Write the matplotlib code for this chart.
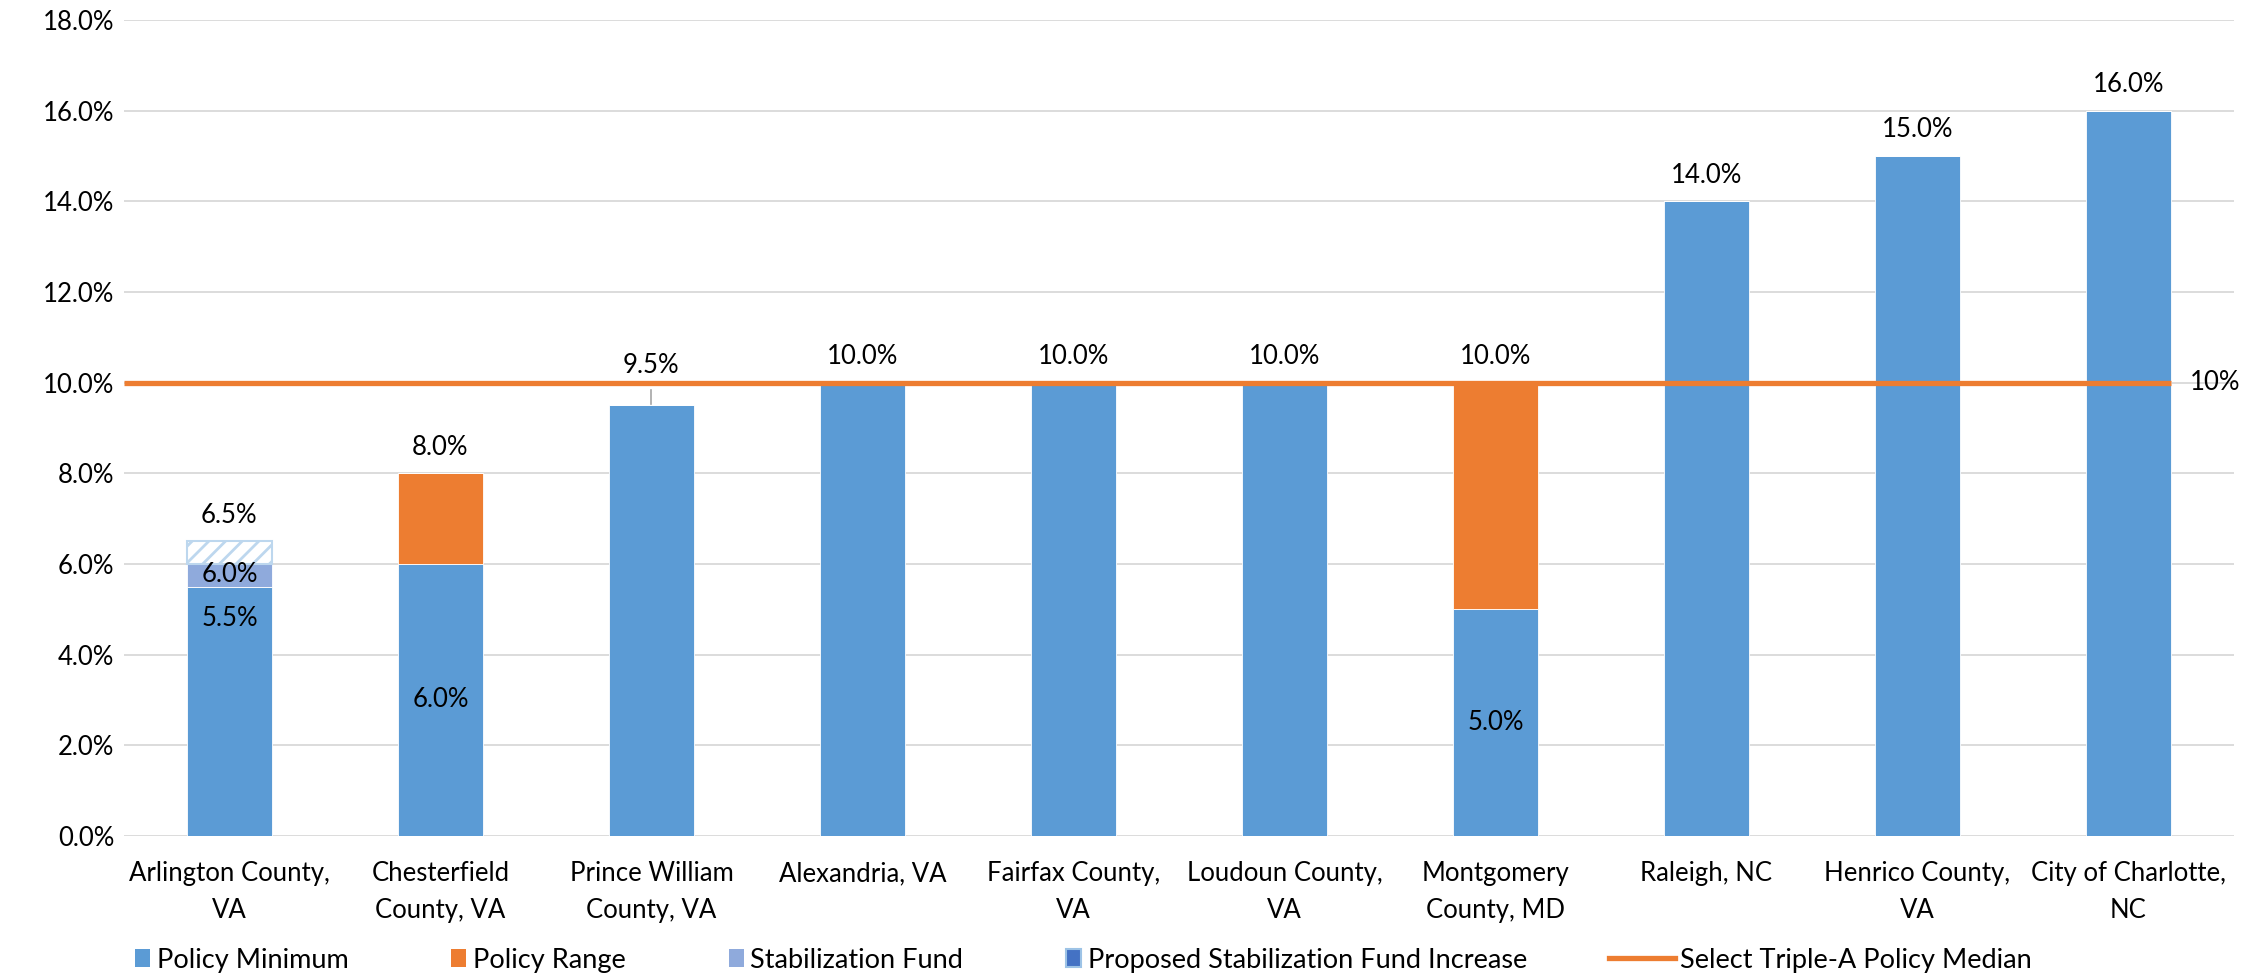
import matplotlib
matplotlib.use("Agg")
import matplotlib.pyplot as plt
from matplotlib.patches import Patch
from matplotlib.lines import Line2D
from matplotlib.ticker import FuncFormatter
import numpy as np

plt.rcParams['font.family'] = ['Lato', 'DejaVu Sans']
plt.rcParams['hatch.linewidth'] = 2.0

# --- data ---
categories = ["Arlington County,\nVA", "Chesterfield\nCounty, VA", "Prince William\nCounty, VA",
              "Alexandria, VA", "Fairfax County,\nVA", "Loudoun County,\nVA",
              "Montgomery\nCounty, MD", "Raleigh, NC", "Henrico County,\nVA",
              "City of Charlotte,\nNC"]
policy_min = [5.5, 6.0, 9.5, 10.0, 10.0, 10.0, 5.0, 14.0, 15.0, 16.0]
policy_range = [0.0, 2.0, 0.0, 0.0, 0.0, 0.0, 5.0, 0.0, 0.0, 0.0]
stab_fund = [0.5, 0, 0, 0, 0, 0, 0, 0, 0, 0]
proposed_increase = [0.5, 0, 0, 0, 0, 0, 0, 0, 0, 0]
median_value = 10.0

BLUE = '#5B9BD5'
ORANGE = '#ED7D31'
STAB = '#8FAADC'
PROPOSED = '#4472C4'
HATCH = '#BDD7EE'
FS = 18.5
LEG_FS = 19.5

x = np.arange(len(categories))
w = 0.40
pm = np.array(policy_min)
pr = np.array(policy_range)
sf = np.array(stab_fund)
pi = np.array(proposed_increase)

fig = plt.figure(figsize=(22.57, 9.75), dpi=100)
ax = fig.add_axes([0.0549, 0.1426, 0.9349, 0.8369])

ax.bar(x, pm, w, color=BLUE, edgecolor='white', linewidth=0.6, zorder=2)
ax.bar(x, pr, w, bottom=pm, color=ORANGE, edgecolor='white', linewidth=0.6, zorder=2)
ax.bar(x, sf, w, bottom=pm + pr, color=STAB, edgecolor='white', linewidth=0.6, zorder=2)
mask = pi > 0
ax.bar(x[mask], pi[mask], w, bottom=(pm + pr + sf)[mask], facecolor='white',
       edgecolor=HATCH, hatch='//', linewidth=1.5, zorder=2)

# median reference line
ax.plot([-0.5, x[-1] + w / 2], [median_value, median_value], color=ORANGE,
        linewidth=3.8, zorder=4, solid_capstyle='butt')
ax.text(x[-1] + w / 2 + 0.09, median_value, f"{median_value:.0f}%", fontsize=FS,
        va='center', ha='left')

# labels above each bar
totals = pm + pr + sf + pi
for i, t in enumerate(totals):
    if i == 2:
        continue
    ax.annotate(f"{t:.1f}%", (x[i], t), xytext=(0, 26), textcoords='offset pixels',
                ha='center', va='center', fontsize=FS, zorder=3)

# Prince William label with leader line
ax.annotate(f"{pm[2]:.1f}%", (x[2], pm[2]), xytext=(0, 40), textcoords='offset pixels',
            ha='center', va='center', fontsize=FS, zorder=3)
ax.plot([x[2], x[2]], [pm[2] + 0.02, pm[2] + 0.33], color='#A6A6A6', lw=1.2, zorder=3)

# labels inside bars
ax.annotate(f"{pm[0]:.1f}%", (x[0], pm[0]), xytext=(0, -32), textcoords='offset pixels',
            ha='center', va='center', fontsize=FS, zorder=3)
ax.annotate(f"{pm[0] + sf[0]:.1f}%", (x[0], pm[0] + sf[0]), xytext=(0, -11),
            textcoords='offset pixels', ha='center', va='center', fontsize=FS, zorder=3)
for i in (1, 6):
    ax.text(x[i], pm[i] / 2, f"{pm[i]:.1f}%", ha='center', va='center', fontsize=FS, zorder=3)

ax.set_xlim(-0.5, len(categories) - 0.5)
ax.set_ylim(0, 18)
ax.set_yticks(np.arange(0, 18.1, 2))
ax.yaxis.set_major_formatter(FuncFormatter(lambda v, p: f"{v:.1f}%"))
ax.set_xticks(x)
ax.set_xticklabels(categories, linespacing=1.6)
ax.tick_params(axis='both', length=0, labelsize=FS)
ax.tick_params(axis='x', pad=18)
ax.tick_params(axis='y', pad=7)
ax.grid(axis='y', color='#D9D9D9', linewidth=1.3, zorder=0)
ax.set_axisbelow(True)
for s in ax.spines.values():
    s.set_visible(False)

patch_handles = [
    Patch(facecolor=BLUE, label='Policy Minimum'),
    Patch(facecolor=ORANGE, label='Policy Range'),
    Patch(facecolor=STAB, label='Stabilization Fund'),
    Patch(facecolor=PROPOSED, edgecolor='#9DC3E6', linewidth=1.5,
          label='Proposed Stabilization Fund Increase'),
]
fig.legend(handles=patch_handles, loc='center left', bbox_to_anchor=(0.0598, 0.0150), ncol=4,
           frameon=False, fontsize=LEG_FS, handlelength=0.55, handleheight=0.64,
           handletextpad=0.25, columnspacing=3.8, borderpad=0, borderaxespad=0)
line_handle = [Line2D([0], [0], color=ORANGE, linewidth=3.8, label='Select Triple-A Policy Median')]
fig.legend(handles=line_handle, loc='center left', bbox_to_anchor=(0.7129, 0.0150),
           frameon=False, fontsize=LEG_FS, handlelength=2.43, handletextpad=0.2,
           borderpad=0, borderaxespad=0)

fig.savefig("out.png", dpi=100)
